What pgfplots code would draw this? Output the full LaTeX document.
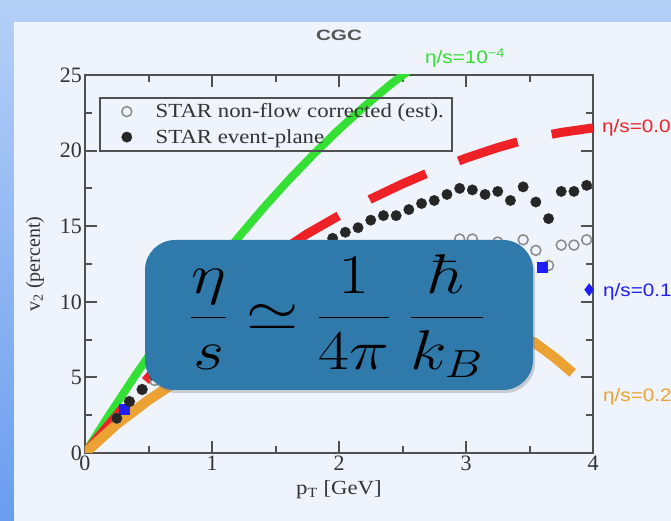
\RequirePackage{fix-cm}
\documentclass[border=0pt]{standalone}
\usepackage[no-math]{fontspec}
\usepackage{graphicx}
\setmainfont{Liberation Serif}
\newfontfamily\labelsans{Liberation Sans}
\newfontfamily\widesans{Liberation Sans}[FakeStretch=1.15]
\newfontfamily\titlesans{Liberation Sans}[FakeStretch=1.38]
\newfontfamily\wideserif{Liberation Serif}[FakeStretch=1.14]
\usepackage{pgfplots}
\pgfplotsset{compat=1.18}
\usetikzlibrary{shadows}

\definecolor{bgtop}{HTML}{B4D0F7}
\definecolor{bgbot}{HTML}{6B9DEF}
\definecolor{panel}{HTML}{EEF3FC}
\definecolor{axisgray}{HTML}{505050}
\definecolor{labelgray}{HTML}{333333}
\definecolor{titlegray}{HTML}{555555}
\definecolor{cgreen}{HTML}{33E033}
\definecolor{cred}{HTML}{EE2226}
\definecolor{corange}{HTML}{EBA232}
\definecolor{cblue}{HTML}{1E1EF5}
\definecolor{circgray}{HTML}{8A8A8A}
\definecolor{boxblue}{HTML}{2F7AAA}

\begin{document}
\begin{tikzpicture}[x=1pt,y=1pt]
\path[use as bounding box] (0,0) rectangle (671,521);
% slide background and white panel
\shade[top color=bgtop, bottom color=bgbot] (0,0) rectangle (671,521);
\fill[panel] (14,0) rectangle (671,499);

\node[font=\titlesans\bfseries\fontsize{15}{18}\selectfont, text=titlegray] at (339,485.5) {CGC};

\begin{axis}[
  at={(85pt,68pt)}, anchor=south west,
  scale only axis, width=508pt, height=378pt,
  xmin=0, xmax=4, ymin=0, ymax=25,
  xtick={0,1,2,3,4}, ytick={0,5,10,15,20,25},
  minor x tick num=1, minor y tick num=1,
  tick align=inside, major tick length=12pt, minor tick length=7pt,
  axis line style={draw=axisgray, line width=2.5pt},
  every tick/.style={draw=axisgray, line width=2pt},
  /pgf/number format/assume math mode=true,
  tick label style={font=\fontsize{22}{26}\selectfont, text=labelgray},
  xticklabel style={inner sep=3pt},
  yticklabel style={inner sep=3pt},
  xlabel={p\textsubscript{T} [GeV]},
  ylabel={v\textsubscript{2} (percent)},
  xlabel style={font=\wideserif\fontsize{20}{24}\selectfont, text=labelgray,
    at={(axis description cs:0.5,-0.098)}, anchor=center},
  ylabel style={font=\fontsize{20}{24}\selectfont, text=labelgray,
    at={(axis description cs:-0.0985,0.5)}, anchor=center},
  legend style={at={(0.0276,0.942)}, anchor=north west, draw=axisgray,
    line width=1.8pt, fill=none, text=labelgray,
    font=\wideserif\fontsize{20}{24}\selectfont, inner xsep=6pt, inner ysep=4pt,
    row sep=6pt},
  legend cell align=left,
  legend image code/.code={%
    \path (0pt,0pt) (46pt,0pt);
    \draw[#1] plot coordinates {(20pt,0pt)};},
]
% eta/s = 1e-4
\addplot[cgreen, line width=8pt, forget plot] coordinates {
  (0,0) (0.2,2.64) (0.4,5.18) (0.6,7.6) (0.8,9.9) (1.0,12.1) (1.2,14.18)
  (1.4,16.16) (1.6,18.02) (1.8,19.76) (2.0,21.4) (2.2,22.92) (2.4,24.34)
  (2.55,25.3)};
% eta/s = 0.08
\addplot[cred, line width=9pt, dash pattern=on 62pt off 35pt, dash phase=3pt, forget plot] coordinates {
  (0,0) (0.25,2.5) (0.5,5.0) (0.75,7.4) (1.0,9.6) (1.25,11.5) (1.5,13.1)
  (1.75,14.5) (2.0,15.7) (2.25,16.8) (2.5,17.8) (2.75,18.7) (3.0,19.5)
  (3.25,20.2) (3.5,20.8) (3.75,21.2) (4.0,21.5)};
% eta/s = 0.24
\addplot[corange, line width=10pt, forget plot] coordinates {
  (0,0) (0.25,1.9) (0.5,3.5) (0.75,4.9) (1.0,6.1) (1.5,7.9) (2.0,9.0)
  (2.5,9.4) (3.0,9.0) (3.3,8.3) (3.54,7.3) (3.7,6.3) (3.84,5.3)};
% STAR non-flow corrected (est.)
\addplot[only marks, mark=o, mark size=5pt, mark options={draw=circgray, line width=1.5pt, fill=none}] coordinates {
  (0.25,2.3) (0.35,3.4) (0.45,4.2) (0.55,4.8) (0.65,5.6) (0.75,6.4) (0.85,7.2)
  (0.95,7.9) (1.05,8.6) (1.15,9.2) (1.25,9.8) (1.35,10.3) (1.45,10.8)
  (1.55,11.3) (1.65,11.7) (1.75,12.1) (1.85,12.5) (1.95,12.8) (2.05,13.0)
  (2.15,13.1) (2.25,13.2) (2.35,13.3) (2.45,13.3) (2.55,13.4) (2.65,13.4)
  (2.75,13.5) (2.85,13.6) (2.95,14.15) (3.05,14.15) (3.15,13.4) (3.25,13.95)
  (3.35,13.3) (3.45,14.1) (3.55,13.4) (3.65,12.4) (3.75,13.75) (3.85,13.75)
  (3.95,14.1)};
\addlegendentry{STAR non-flow corrected (est).}
% eta/s = 0.16
\addplot[only marks, mark=square*, mark size=5pt, mark options={draw=cblue, fill=cblue, line width=0.5pt}, forget plot] coordinates {
  (0.31,2.9) (0.6,5.9) (0.95,8.4) (1.3,10.4) (1.65,11.9) (2.0,12.9)
  (2.35,13.4) (2.7,13.6) (3.05,13.4) (3.3,13.0) (3.6,12.3)};
\addplot[only marks, mark=diamond*, mark size=6pt, mark options={draw=cblue, fill=cblue, line width=0.5pt}, forget plot] coordinates {
  (3.97,10.8)};
% STAR event-plane
\addplot[only marks, mark=*, mark size=5.2pt, mark options={draw=black!85, fill=black!85, line width=0.4pt}] coordinates {
  (0.25,2.3) (0.35,3.4) (0.45,4.2) (0.55,5.1) (0.65,6.0) (0.75,6.8) (0.85,7.6)
  (0.95,8.4) (1.05,9.1) (1.15,9.8) (1.25,10.4) (1.35,11.0) (1.45,11.6)
  (1.55,12.1) (1.65,12.6) (1.75,13.1) (1.85,13.7) (1.95,14.2) (2.05,14.6)
  (2.15,14.9) (2.25,15.4) (2.35,15.7) (2.45,15.7) (2.55,16.1) (2.65,16.5)
  (2.75,16.7) (2.85,17.1) (2.95,17.5) (3.05,17.4) (3.15,17.1) (3.25,17.3)
  (3.35,16.7) (3.45,17.6) (3.55,16.6) (3.65,15.5) (3.75,17.3) (3.85,17.3)
  (3.95,17.7)};
\addlegendentry{STAR event-plane}
\end{axis}

% curve labels
\begin{scope}[every node/.style={anchor=west, inner sep=0pt, font=\widesans\fontsize{18}{21}\selectfont}]
\node[text=cgreen] at (425,463) {η/s=10\textsuperscript{−4}};
\node[text=cred] at (602,393) {η/s=0.08};
\node[text=cblue] at (603,229) {η/s=0.16};
\node[text=corange] at (603,124) {η/s=0.24};
\end{scope}

% viscosity bound
\path[fill=boxblue, rounded corners=30pt,
  drop shadow={shadow xshift=2pt, shadow yshift=-3pt, opacity=0.35}]
  (145,131) rectangle (533,281);
\node at (337,205) {\scalebox{1.2}[1]{\fontsize{56}{66}\selectfont
  $\displaystyle\frac{\eta}{s}\simeq\frac{1}{4\pi}\;\frac{\hbar}{k_B}$}};
\end{tikzpicture}
\end{document}
